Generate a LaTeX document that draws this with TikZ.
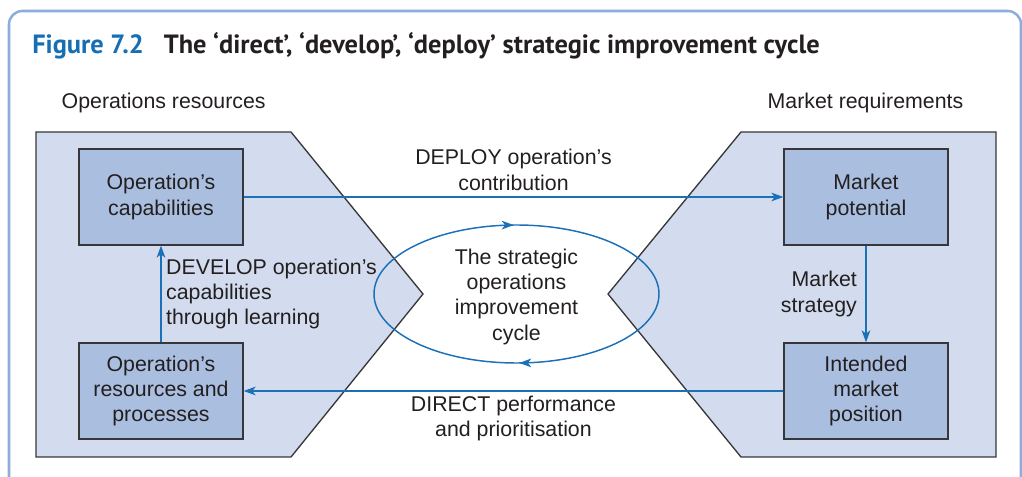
\documentclass[tikz,border=0pt]{standalone}
\usepackage{fontspec}
\setmainfont{Liberation Sans}
\newfontfamily\titlefont{PT Sans}
\usetikzlibrary{arrows.meta,decorations.markings}
\definecolor{frameblue}{RGB}{141,174,220}
\definecolor{figblue}{RGB}{22,110,180}
\definecolor{flow}{RGB}{28,112,184}
\definecolor{zone}{RGB}{211,220,238}
\definecolor{cell}{RGB}{170,190,224}
\definecolor{edge}{RGB}{55,55,58}
\definecolor{ink}{RGB}{35,31,32}
\newcommand\bodyfont{\fontsize{16}{19}\selectfont}

\begin{document}
\begin{tikzpicture}[x=0.75pt,y=-0.75pt,
  zn/.style={draw=edge,fill=zone,line width=1pt},
  bx/.style={draw=edge,fill=cell,line width=1pt,
            minimum width=123pt,minimum height=72pt,
            font=\bodyfont,text=ink,align=center},
  lb/.style={font=\bodyfont,text=ink,align=center},
  fl/.style={draw=flow,line width=1.1pt,
            -{Stealth[length=9pt,width=6.5pt,inset=2.5pt]}},
  cyc/.style={draw=flow,line width=1.1pt,postaction={decorate},
            decoration={markings,
              mark=at position 0.246 with {\arrow{Stealth[length=9pt,width=6.5pt,inset=2.5pt]}},
              mark=at position 0.746 with {\arrow{Stealth[length=9pt,width=6.5pt,inset=2.5pt]}}}}]
  \useasboundingbox (0,0) rectangle (1022,477);
  \draw[frameblue,line width=1.9pt,rounded corners=10pt]
    (9,490) -- (9,11) -- (1021,11) -- (1021,490);
  \node[anchor=base west,inner sep=0pt,text=ink,
        font=\fontsize{19.8}{23}\selectfont\titlefont\bfseries] (title) at (32,54)
    {{\color{figblue}Figure 7.2}\hspace{15pt}The ‘direct’, ‘develop’, ‘deploy’ strategic improvement cycle};
  \node[lb,anchor=west] (orl) at (57,103) {Operations resources};
  \node[lb,anchor=east] (mrl) at (968,103) {Market requirements};
  \draw[zn] (36,132) -- (291,132) -- (423,294) -- (291,457) -- (36,457) -- cycle;
  \draw[zn] (741,132) -- (996,132) -- (996,457) -- (741,457) -- (608,294) -- cycle;
  \coordinate (cc) at (516.5,294);
  \draw[cyc] (cc) ellipse [x radius=142.5,y radius=69];
  \node[lb] (ct) at ([yshift=-2pt]cc) {The strategic\\operations\\improvement\\cycle};
  \node[bx] (oc) at (161,197) {Operation’s\\capabilities};
  \node[bx] (or) at (161,391) {Operation’s\\resources and\\processes};
  \node[bx] (mp) at (866,197) {Market\\potential};
  \node[bx] (im) at (866,391) {Intended\\market\\position};
  \draw[fl] (oc) -- (mp)
    node[lb,midway,above,yshift=1pt] (dpl) {DEPLOY operation’s\\contribution};
  \draw[fl] (im) -- (or)
    node[lb,midway,below] (drl) {DIRECT performance\\and prioritisation};
  \draw[fl] (or) -- (oc)
    node[lb,midway,right,align=left] (dvl) {DEVELOP operation’s\\capabilities\\through learning};
  \draw[fl] (mp) -- (im)
    node[lb,midway,left,align=right,xshift=-3pt] (msl) {Market\\strategy};
\end{tikzpicture}
\end{document}
